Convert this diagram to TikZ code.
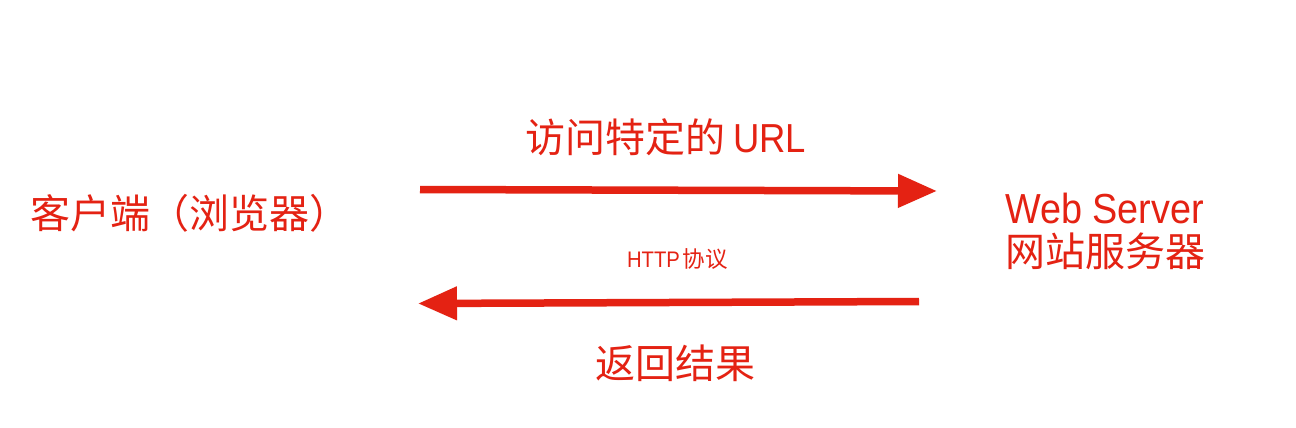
\documentclass[tikz,border=0pt]{standalone}
\usepackage{fontspec}
\setmainfont{Liberation Sans}[FakeStretch=0.9]
\newfontfamily\cjk{Noto Sans CJK SC}
\newfontfamily\latin{Liberation Sans}[FakeStretch=0.9]
\usetikzlibrary{arrows.meta}
\definecolor{arrowred}{RGB}{228,34,19}
\tikzset{
  redtext/.style={text=arrowred, inner sep=0pt, outer sep=0pt},
  bigcjk/.style={font=\cjk\fontsize{40}{43}\selectfont},
  flow/.style={draw=arrowred, line width=7.5pt, -{Triangle[length=39pt,width=32pt]}},
}
\begin{document}
\begin{tikzpicture}[x=1pt,y=-1pt]
\fill[white] (0,0) rectangle (1296,428);
\node[redtext, bigcjk, anchor=center] (client) at (190,213.5) {客户端（浏览器）};
\node[redtext, anchor=base west, font=\fontsize{40}{43}\selectfont, align=left] (server) at (1005,266)
  {{\latin\fontsize{42}{43}\selectfont Web Server}\\{\cjk\fontsize{40}{43}\selectfont 网站服务器}};
\node[redtext, anchor=base west, font=\cjk\fontsize{40}{48}\selectfont] (request) at (525,152)
  {访问特定的\hspace{8pt}{\latin\fontsize{40.5}{48}\selectfont URL}};
\node[redtext, anchor=base west, font=\fontsize{22.5}{27}\selectfont] (proto) at (627,267.5)
  {HTTP\hspace{3pt}{\cjk 协议}};
\node[redtext, bigcjk] (result) at (675,363.5) {返回结果};
\coordinate (reqstart) at (420,189.5);
\coordinate (reqend) at (937,191);
\coordinate (resstart) at (919,301.5);
\coordinate (resend) at (418,303.5);
\draw[flow] (reqstart) -- (reqend);
\draw[flow] (resstart) -- (resend);
\end{tikzpicture}
\end{document}
